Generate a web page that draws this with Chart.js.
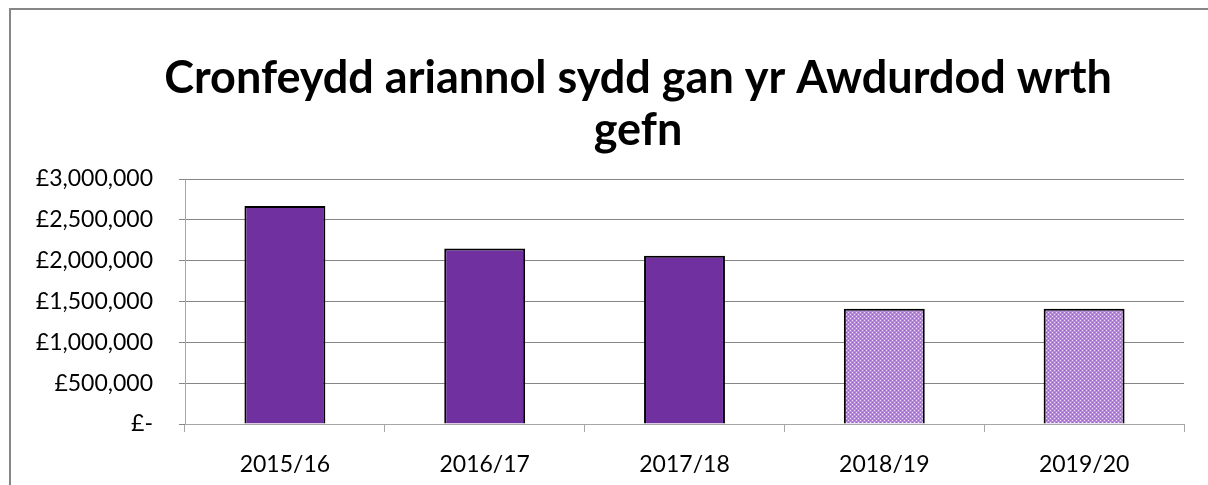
<!DOCTYPE html>
<html>
<head>
<meta charset="utf-8">
<script src="https://cdn.jsdelivr.net/npm/chart.js@4.4.0/dist/chart.umd.min.js"></script>
<style>
  html, body { margin: 0; padding: 0; background: #fff; }
  #wrap { position: relative; width: 1208px; height: 485px; }
</style>
</head>
<body>
<div id="wrap"><canvas id="reserveChart" width="1208" height="485"></canvas></div>
<script>
// Chart data
const categories = ['2015/16', '2016/17', '2017/18', '2018/19', '2019/20'];
const reserveValues = [2670000, 2150000, 2060000, 1410000, 1410000];
const isForecast = [false, false, false, true, true];
const yTicks = [0, 500000, 1000000, 1500000, 2000000, 2500000, 3000000];

const chartTitle = ['Cronfeydd ariannol sydd gan yr Awdurdod wrth', 'gefn'];

// small dotted fill for the forecast bars
function makePattern() {
    const p = document.createElement('canvas');
    p.width = 4;
    p.height = 4;
    const c = p.getContext('2d');
    c.fillStyle = '#b48ad6';
    c.fillRect(0, 0, 4, 4);
    c.fillStyle = '#eadcf5';
    c.fillRect(0, 0, 1, 1);
    c.fillRect(2, 2, 1, 1);
    c.fillStyle = '#9a68c4';
    c.fillRect(2, 0, 1, 1);
    c.fillRect(0, 2, 1, 1);
    return c.createPattern(p, 'repeat');
}

// outer frame like the spreadsheet chart area, plus the title
// centred over the whole frame (not just the plot)
const framePlugin = {
    id: 'frame',
    beforeDraw(chart) {
        const ctx = chart.ctx;
        ctx.save();
        ctx.strokeStyle = '#878787';
        ctx.lineWidth = 2;
        ctx.beginPath();
        ctx.moveTo(10, 485);
        ctx.lineTo(10, 9);
        ctx.lineTo(1208, 9);
        ctx.stroke();

        ctx.fillStyle = '#000000';
        ctx.font = 'bold 45px Lato';
        ctx.textAlign = 'center';
        ctx.textBaseline = 'middle';
        chartTitle.forEach((line, i) => {
            ctx.fillText(line, 638, 78 + i * 52);
        });
        ctx.restore();
    }
};

function initializeReserveChart() {
    const ctx = document.getElementById('reserveChart').getContext('2d');
    const pattern = makePattern();

    new Chart(ctx, {
        type: 'bar',
        data: {
            labels: categories,
            datasets: [{
                label: 'Cronfeydd',
                data: reserveValues,
                backgroundColor: (c) => isForecast[c.dataIndex] ? pattern : '#7030a0',
                borderColor: '#000000',
                borderWidth: 2,
                barPercentage: 0.405,
                categoryPercentage: 1
            }]
        },
        plugins: [framePlugin],
        options: {
            responsive: false,
            animation: false,
            layout: {
                padding: { left: 0, right: 24, top: 179, bottom: 0 }
            },
            plugins: {
                legend: { display: false },
                tooltip: { enabled: false },
                title: { display: false }
            },
            scales: {
                y: {
                    min: 0,
                    max: 3000000,
                    afterBuildTicks: (axis) => {
                        axis.ticks = yTicks.map(v => ({ value: v }));
                    },
                    afterFit: (axis) => { axis.width = 185; },
                    border: { color: '#a6a6a6', width: 1 },
                    grid: {
                        color: '#868686',
                        lineWidth: 1,
                        tickLength: 6
                    },
                    ticks: {
                        color: '#000000',
                        padding: 26,
                        font: { family: 'Lato', size: 23 },
                        callback: (v) => v === 0 ? '£-' : '£' + v.toLocaleString('en-GB')
                    }
                },
                x: {
                    afterFit: (axis) => { axis.height = 61; },
                    border: { color: '#a6a6a6', width: 1 },
                    grid: {
                        offset: true,
                        drawOnChartArea: false,
                        color: '#a6a6a6',
                        tickLength: 8
                    },
                    ticks: {
                        color: '#000000',
                        padding: 19,
                        font: { family: 'Lato', size: 23 }
                    }
                }
            }
        }
    });
}

initializeReserveChart();
</script>
</body>
</html>
